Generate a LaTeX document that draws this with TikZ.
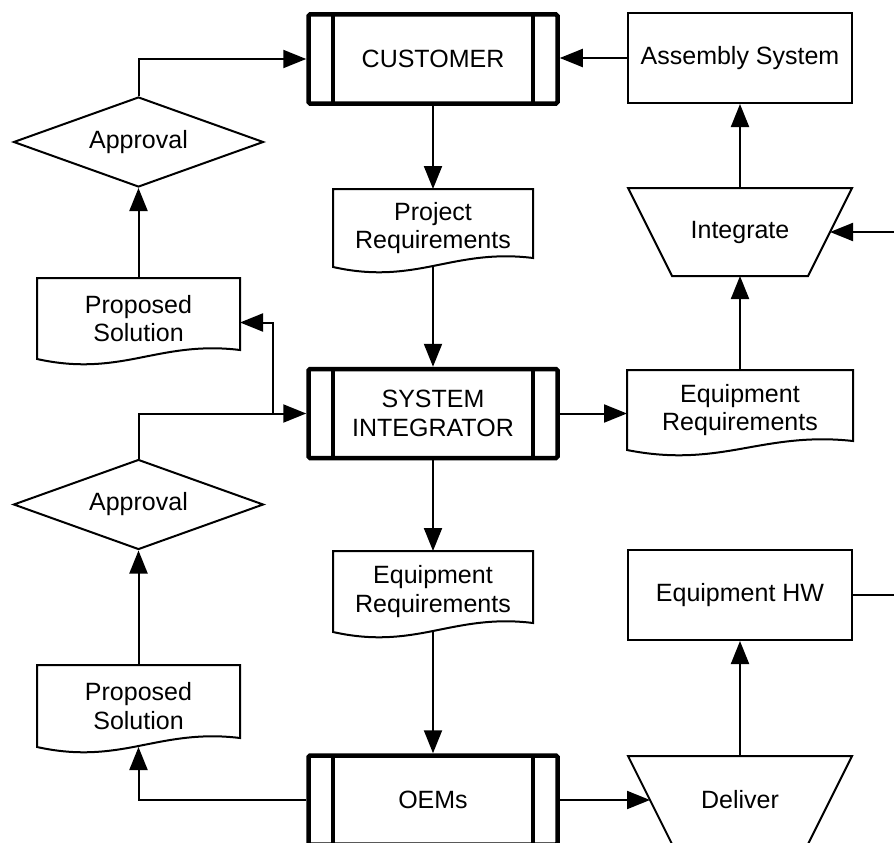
\documentclass[tikz,border=0pt]{standalone}
\usepackage{fontspec}
\setmainfont{Liberation Sans}
\usetikzlibrary{arrows.meta,shapes.geometric,calc}

% Document symbol: flat top, wavy bottom edge rising to the right
\newcommand{\docshape}[1]{%
  \draw[shapeline] (#1.south west) -- (#1.north west) -- (#1.north east)
    -- ($(#1.south east)+(0,-9)$)
    .. controls ($(#1.south west)!0.8!(#1.south east)+(0,-14)$)
           and ($(#1.south west)!0.65!(#1.south east)+(0,-7)$)
    .. ($(#1.south west)!0.5!(#1.south east)+(0,-1)$)
    .. controls ($(#1.south west)!0.35!(#1.south east)+(0,5)$)
           and ($(#1.south west)!0.2!(#1.south east)+(0,9)$)
    .. cycle;}

% Manual operation symbol: wide top, sides slanting in by 44pt
\newcommand{\trapshape}[1]{%
  \draw[shapeline] (#1.north west) -- (#1.north east)
    -- ($(#1.south east)+(-44,0)$) -- ($(#1.south west)+(44,0)$) -- cycle;}

\tikzset{
  every node/.style={font=\fontsize{25}{28.5}\selectfont, align=center},
  shapeline/.style={line width=2pt},
  conn/.style={line width=2pt},
  arr/.style={conn, -{Triangle[length=23pt,width=18pt]}},
  proc/.style={rectangle, draw, line width=4.5pt, rounded corners=1.5pt,
    minimum width=249pt, minimum height=89pt, inner sep=0pt,
    path picture={\draw[line width=4.5pt]
      ([xshift=24.5pt]path picture bounding box.north west) --
      ([xshift=24.5pt]path picture bounding box.south west)
      ([xshift=-24.5pt]path picture bounding box.north east) --
      ([xshift=-24.5pt]path picture bounding box.south east);}},
  plainbox/.style={rectangle, draw, line width=2pt,
    minimum width=224pt, minimum height=90pt},
  decision/.style={diamond, draw, line width=2pt, aspect=2.78,
    minimum width=250pt, minimum height=90pt, inner sep=1pt},
  trapbox/.style={rectangle, draw=none, outer sep=0pt, inner sep=0pt,
    minimum width=224pt, minimum height=88pt},
  docbox/.style={rectangle, draw=none, outer sep=0pt, inner sep=0pt}
}

\begin{document}
\begin{tikzpicture}[x=1pt, y=-1pt]
\useasboundingbox (0,0) rectangle (894,843);

% process boxes
\node[proc] (cust) at (433,59) {CUSTOMER};
\node[proc] (si)   at (433,413.5) {SYSTEM\\INTEGRATOR};
\node[proc] (oems) at (433,800) {OEMs};

% plain boxes
\node[plainbox] (asm) at (740,58) {Assembly System};
\node[plainbox] (hw)  at (740,595) {Equipment HW};

% manual operations
\node[trapbox] (integ)   at (740,232) {Integrate};
\node[trapbox] (deliver) at (740,800) {Deliver};
\trapshape{integ}
\trapshape{deliver}
\coordinate (integ-in) at ($(integ.east)+(-22,0)$);
\coordinate (deliver-in) at ($(deliver.west)+(22,0)$);

% decisions
\node[decision] (appr1) at (138.5,142) {Approval};
\node[decision] (appr2) at (138.5,504.5) {Approval};

% documents
\node[docbox, minimum width=200pt, minimum height=78pt] (preq) at (433,228) {Project\\Requirements};
\node[docbox, minimum width=226pt, minimum height=80pt] (eqr1) at (740,410) {Equipment\\Requirements};
\node[docbox, minimum width=203pt, minimum height=81pt] (ps1) at (138.5,318.5) {Proposed\\Solution};
\node[docbox, minimum width=200pt, minimum height=81pt] (eqr2) at (433,591.5) {Equipment\\Requirements};
\node[docbox, minimum width=203pt, minimum height=82pt] (ps2) at (138.5,706) {Proposed\\Solution};
\docshape{preq}
\docshape{eqr1}
\docshape{ps1}
\docshape{eqr2}
\docshape{ps2}

% free ends on the right margin
\coordinate (extI) at (894,232);
\coordinate (extH) at (894,595);
\coordinate (split) at ([xshift=-33pt]si.west);

% connectors
\draw[arr] (asm.west) -- (asm.west -| cust.east);
\draw[arr] (appr1.north) |- (cust.west);
\draw[arr] (ps1.north) -- (appr1.south);
\draw[arr] (cust.south) -- (preq.north);
\draw[arr] ([yshift=1pt]preq.south) -- (si.north);
\draw[arr] (integ.north) -- (asm.south);
\draw[arr] (eqr1.north) -- (integ.south);
\draw[arr] (si.east) -- (si.east -| eqr1.west);
\draw[arr] (extI) -- (integ-in);
\draw[arr] (appr2.north) |- (si.west);
\draw[arr] (split) |- ([yshift=-4pt]ps1.east);
\draw[arr] (si.south) -- (eqr2.north);
\draw[arr] ([yshift=1pt]eqr2.south) -- (oems.north);
\draw[arr] (ps2.north) -- (appr2.south);
\draw[arr] (oems.west) -| (ps2.south);
\draw[arr] (oems.east) -- (deliver-in);
\draw[arr] (deliver.north) -- (hw.south);
\draw[conn] (hw.east) -- (extH);
\end{tikzpicture}
\end{document}
